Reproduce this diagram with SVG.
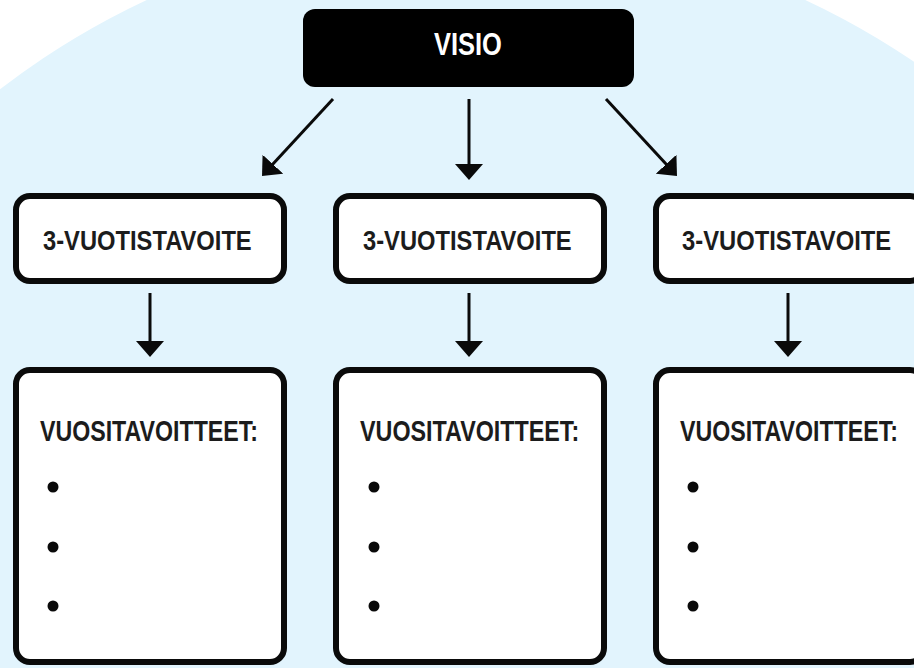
<svg xmlns="http://www.w3.org/2000/svg" width="914" height="668" viewBox="0 0 914 668">
  <defs>
    <style>
      .box { fill: #ffffff; stroke: #0a0a0a; stroke-width: 6; }
      .lbl { font-family: "Liberation Sans", Arial, sans-serif; font-weight: bold; fill: #1c1c1c; }
      .goal { font-size: 28px; }
      .annual { font-size: 30px; }
      .conn { stroke: #0a0a0a; stroke-width: 3; fill: none; marker-end: url(#ah); }
      .dot { fill: #0a0a0a; }
    </style>
    <marker id="ah" viewBox="0 0 16 28" refX="6" refY="14" markerWidth="16" markerHeight="28" markerUnits="userSpaceOnUse" orient="auto">
      <path d="M0,0 L16,14 L0,28 Z" fill="#0a0a0a"/>
    </marker>
  </defs>
  <rect x="0" y="0" width="914" height="668" fill="#ffffff"/>
  <circle cx="476" cy="706" r="779" fill="#e2f4fd"/>

  <g id="connectors">
    <path class="conn" d="M333,99 L268.8,168.6"/>
    <path class="conn" d="M469,99 L469,170"/>
    <path class="conn" d="M606,99 L670.2,168.6"/>
    <path class="conn" d="M150,293 L150,347"/>
    <path class="conn" d="M469,293 L469,347"/>
    <path class="conn" d="M788,293 L788,347"/>
  </g>

  <g id="visio">
    <rect x="303" y="9" width="331" height="78" rx="12" fill="#000000"/>
    <text class="lbl" transform="translate(434,55) scale(0.796,1)" x="0" y="0" font-size="32" style="fill:#ffffff">VISIO</text>
  </g>

  <g id="goal1">
    <rect class="box" x="16" y="196" width="268" height="85" rx="14"/>
    <text class="lbl goal" transform="translate(43,250) scale(0.848,1)" x="0" y="0">3-VUOTISTAVOITE</text>
  </g>
  <g id="goal2">
    <rect class="box" x="336" y="196" width="268" height="85" rx="14"/>
    <text class="lbl goal" transform="translate(363,250) scale(0.848,1)" x="0" y="0">3-VUOTISTAVOITE</text>
  </g>
  <g id="goal3">
    <rect class="box" x="656" y="196" width="268" height="85" rx="14"/>
    <text class="lbl goal" transform="translate(682,250) scale(0.850,1)" x="0" y="0">3-VUOTISTAVOITE</text>
  </g>

  <g id="annual1">
    <rect class="box" x="16" y="370" width="268" height="292" rx="14"/>
    <text class="lbl annual" transform="translate(40,441) scale(0.773,1)" x="0" y="0">VUOSITAVOITTEET:</text>
    <circle class="dot" cx="53" cy="487" r="5.5"/>
    <circle class="dot" cx="53" cy="547" r="5.5"/>
    <circle class="dot" cx="53" cy="606" r="5.5"/>
  </g>
  <g id="annual2">
    <rect class="box" x="336" y="370" width="268" height="292" rx="14"/>
    <text class="lbl annual" transform="translate(360,441) scale(0.777,1)" x="0" y="0">VUOSITAVOITTEET:</text>
    <circle class="dot" cx="374" cy="487" r="5.5"/>
    <circle class="dot" cx="374" cy="547" r="5.5"/>
    <circle class="dot" cx="374" cy="606" r="5.5"/>
  </g>
  <g id="annual3">
    <rect class="box" x="656" y="370" width="268" height="292" rx="14"/>
    <text class="lbl annual" transform="translate(680,441) scale(0.773,1)" x="0" y="0">VUOSITAVOITTEET:</text>
    <circle class="dot" cx="693" cy="487" r="5.5"/>
    <circle class="dot" cx="693" cy="547" r="5.5"/>
    <circle class="dot" cx="693" cy="606" r="5.5"/>
  </g>
</svg>
